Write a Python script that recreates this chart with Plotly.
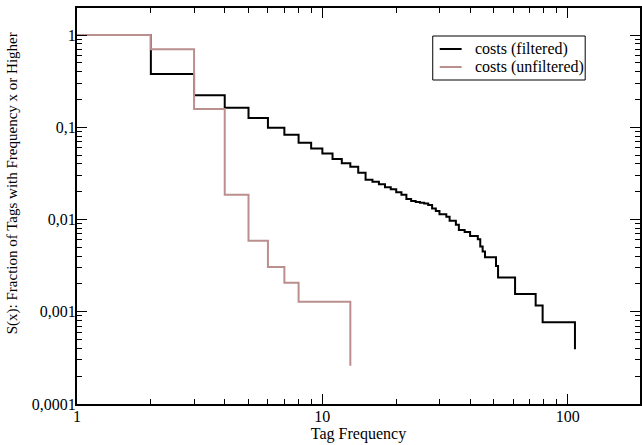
import numpy as np
import plotly.graph_objects as go

# Data (complementary cumulative distribution)
filtered_x = [1, 2, 3, 4, 5, 6, 7, 8, 9, 10, 11, 12, 13, 14, 15, 16, 17, 18, 19, 20,
              21, 22, 23, 24, 25, 26, 27, 28, 29, 30, 32, 33, 35, 36, 38, 40, 43, 44,
              45, 46, 51, 52, 61, 74, 79, 107]
filtered_y = [1.0, 0.378, 0.222, 0.163, 0.126, 0.099, 0.083, 0.068, 0.0587, 0.052,
              0.0454, 0.0407, 0.0374, 0.0322, 0.0269, 0.0257, 0.0241, 0.0224, 0.0213,
              0.0198, 0.0186, 0.0167, 0.0159, 0.0155, 0.0152, 0.0149, 0.0144, 0.0132,
              0.0124, 0.0114, 0.0107, 0.0097, 0.0088, 0.0077, 0.0073, 0.00664, 0.00612,
              0.00509, 0.00449, 0.0039, 0.00314, 0.00235, 0.00156, 0.00117, 0.00077,
              0.000393]

unfiltered_x = [1, 2, 3, 4, 5, 6, 7, 8, 13]
unfiltered_y = [1.0, 0.70, 0.158, 0.0185, 0.0059, 0.00306, 0.00206, 0.00128, 0.00026]

series_names = ["costs (filtered)", "costs (unfiltered)"]
series_colors = ["black", "#bc8f8f"]

x_tick_vals = [1, 10, 100]
x_tick_text = ["1", "10", "100"]
y_tick_vals = [0.0001, 0.001, 0.01, 0.1, 1]
y_tick_text = ["0,0001", "0,001", "0,01", "0,1", "1"]

x_minor = [m * d for d in (1, 10, 100) for m in range(2, 10)]
y_minor = [m * d for d in (0.0001, 0.001, 0.01, 0.1) for m in range(2, 10)]

FONT = "Liberation Serif"

# plot-area geometry (pixels) used for legend/title placement
L, R, T, B = 77, 642, 8, 404
def px(x):
    return (x - L) / (R - L)
def py(y):
    return (B - y) / (B - T)

fig = go.Figure()
fig.add_trace(go.Scatter(x=filtered_x, y=filtered_y, mode="lines", line_shape="hv",
                         line=dict(color=series_colors[0], width=2), name=series_names[0]))
fig.add_trace(go.Scatter(x=unfiltered_x, y=unfiltered_y, mode="lines", line_shape="hv",
                         line=dict(color=series_colors[1], width=2), name=series_names[1]))

axis_common = dict(showgrid=False, zeroline=False, showline=True, linecolor="black",
                   linewidth=2, mirror="allticks", ticks="inside", ticklen=10,
                   tickwidth=1, tickcolor="black",
                   tickfont=dict(family=FONT, size=16, color="black"))

fig.update_xaxes(type="log", range=[0, np.log10(197)], tickmode="array",
                 tickvals=x_tick_vals, ticktext=x_tick_text, ticklabelstandoff=-3,
                 minor=dict(ticks="inside", ticklen=5, tickwidth=1, tickcolor="black",
                            tickvals=x_minor, showgrid=False),
                 title=dict(text="Tag Frequency", font=dict(family=FONT, size=16, color="black"),
                            standoff=0),
                 **axis_common)
fig.update_yaxes(type="log", range=[-4, 0.293], tickmode="array",
                 tickvals=y_tick_vals, ticktext=y_tick_text, ticklabelstandoff=-4,
                 minor=dict(ticks="inside", ticklen=5, tickwidth=1, tickcolor="black",
                            tickvals=y_minor, showgrid=False),
                 **axis_common)

fig.add_annotation(text="S(x): Fraction of Tags with Frequency x or Higher",
                   xref="paper", yref="paper", x=px(12), y=py(183), textangle=-90,
                   showarrow=False, xanchor="center", yanchor="middle",
                   font=dict(family=FONT, size=15, color="black"))

# legend box drawn as shapes/annotations
fig.add_shape(type="rect", xref="paper", yref="paper",
              x0=px(434), x1=px(587), y0=py(80), y1=py(36),
              line=dict(color="black", width=1), fillcolor="white", layer="above")
for i, (nm, col) in enumerate(zip(series_names, series_colors)):
    yy = 49 + 18 * i
    fig.add_shape(type="line", xref="paper", yref="paper",
                  x0=px(441), x1=px(463), y0=py(yy), y1=py(yy),
                  line=dict(color=col, width=2), layer="above")
    fig.add_annotation(text=nm, xref="paper", yref="paper", x=px(474), y=py(yy),
                       xanchor="left", yanchor="middle", showarrow=False,
                       font=dict(family=FONT, size=16, color="black"))

fig.update_layout(
    width=642, height=445,
    margin=dict(l=L, r=0, t=T, b=445 - B),
    plot_bgcolor="white", paper_bgcolor="white",
    showlegend=False,
)

fig.write_html("out.html")
